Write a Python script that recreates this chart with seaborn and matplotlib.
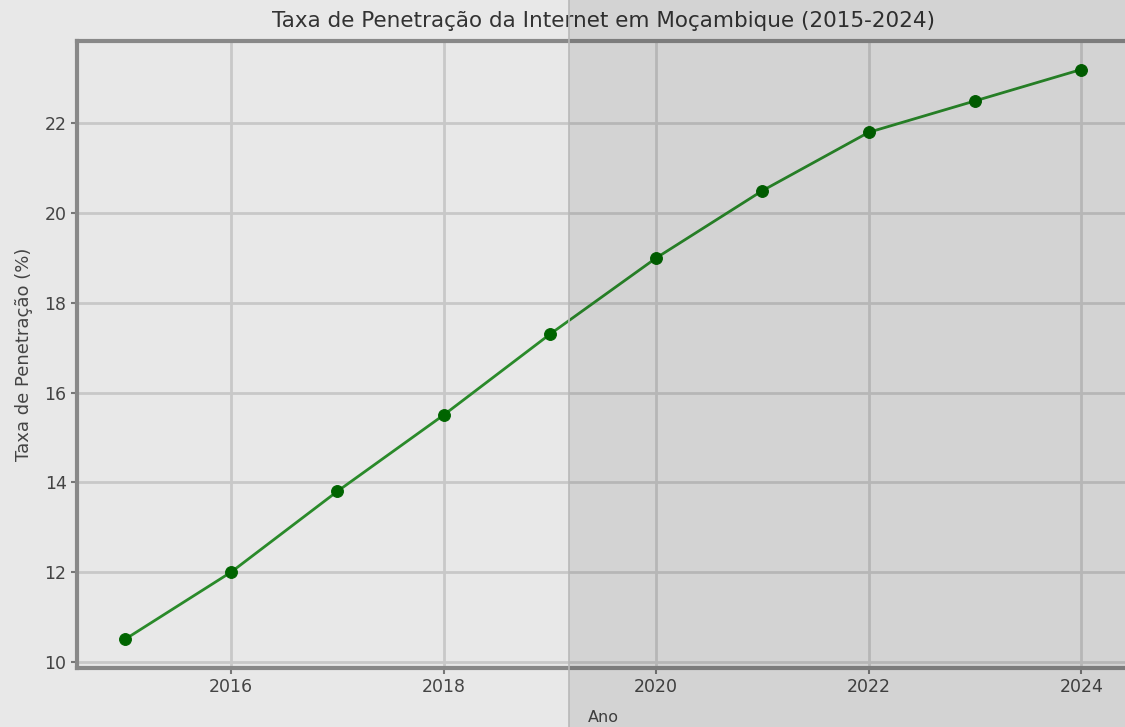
import matplotlib
matplotlib.use("Agg")
import matplotlib.pyplot as plt
from matplotlib.patches import Rectangle
from matplotlib.lines import Line2D
import seaborn as sns
import pandas as pd

anos = [2015, 2016, 2017, 2018, 2019, 2020, 2021, 2022, 2023, 2024]
taxa = [10.5, 12.0, 13.8, 15.5, 17.3, 19.0, 20.5, 21.8, 22.5, 23.2]
titulo = "Taxa de Penetração da Internet em Moçambique (2015-2024)"
xlabel = "Ano"
ylabel = "Taxa de Penetração (%)"

df = pd.DataFrame({"Ano": anos, "Taxa": taxa})

sns.set_style("whitegrid")
plt.rcParams['font.family'] = ['DejaVu Sans']

fig = plt.figure(figsize=(11.25, 7.27), dpi=100, facecolor="#e8e8e8")
ax = fig.add_axes([0.0684, 0.0812, 0.9352, 0.8624])
ax.set_facecolor("#e8e8e8")

sns.lineplot(data=df, x="Ano", y="Taxa", ax=ax, color="#2a8a2a", linewidth=2.0,
             marker="o", markersize=8.5, markerfacecolor="#006400",
             markeredgecolor="#006400", zorder=3)

ax.set_title(titulo, fontsize=15.5, color="#333333", pad=10)
ax.set_xlabel(xlabel, fontsize=11.5, color="#444444", labelpad=10)
ax.set_ylabel(ylabel, fontsize=13, color="#444444", labelpad=8)
ax.set_xticks([2016, 2018, 2020, 2022, 2024])
ax.set_yticks([10, 12, 14, 16, 18, 20, 22])
ax.tick_params(axis="both", labelsize=12.5, colors="#444444", length=4, width=1.5,
               direction="out", bottom=True, left=True, color="#777777")
ax.grid(True, color="#c8c8c8", linewidth=2.0)
for side in ["left", "bottom", "top", "right"]:
    ax.spines[side].set_visible(True)
    ax.spines[side].set_color("#888888")
    ax.spines[side].set_linewidth(3)

# darker vertical band across the figure
x0 = 569 / 1125
fig.add_artist(Rectangle((x0, 0), 1 - x0, 1, transform=fig.transFigure,
                         facecolor="black", alpha=0.085, edgecolor="none", zorder=10))
fig.add_artist(Line2D([x0, x0], [0, 1], transform=fig.transFigure,
                      color="#b8b8b8", linewidth=1.2, zorder=10))

fig.savefig("out.png", dpi=100, facecolor=fig.get_facecolor())
